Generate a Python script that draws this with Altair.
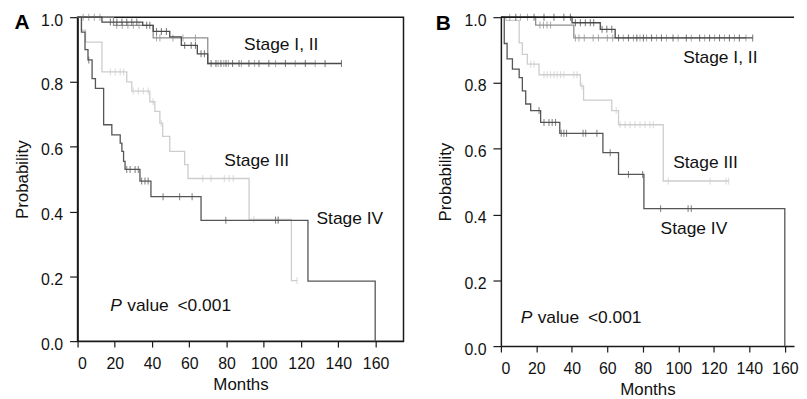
import altair as alt
import pandas as pd

FONT = "Liberation Sans"
X_TICKS = [0, 20, 40, 60, 80, 100, 120, 140, 160]
Y_TICKS = [0.0, 0.2, 0.4, 0.6, 0.8, 1.0]

# ---------------- Panel A ----------------
a1_t = [0, 13.1, 35, 40.6, 49.5, 55.7, 64.3, 69.9, 141.7]
a1_s = [1.0, 0.985, 0.975, 0.956, 0.939, 0.913, 0.887, 0.857, 0.857]
a1_c = [17.6, 21.1, 23.8, 26.4, 29.1, 31.8, 37.1, 38.8, 42.4, 45.0, 47.7, 57.5, 61.0, 63.3,
        66.3, 68.1, 71.7, 74.3, 77.0, 79.7, 83.2, 86.7, 92.0, 97.4, 102.7, 111.6, 122.3, 132.9, 141.7]

a2_t = [0, 19.3, 40.6, 69.9, 127.6]
a2_s = [1.0, 0.975, 0.936, 0.857, 0.857]
a2_c = [3.0, 6.0, 9.0, 12.0, 21.0, 24.0, 27.0, 30.0, 33.0, 42.4, 44.2, 51.2, 56.6, 63.3,
        75.5, 78.5, 81.0, 88.0, 95.0, 106.3, 116.9, 127.6]

a3_t = [0, 2.0, 4.3, 13.1, 26.4, 29.1, 38.8, 41.5, 44.2, 45.7, 49.5, 57.5, 59.3, 92.1, 114.8, 118.0]
a3_s = [1.0, 0.96, 0.923, 0.831, 0.8, 0.772, 0.739, 0.709, 0.673, 0.632, 0.586, 0.545, 0.502, 0.376, 0.187, 0.187]
a3_c = [17.6, 20.2, 22.9, 24.7, 29.9, 32.6, 35.3, 37.9, 40.5, 44.9, 67.2, 71.7, 78.8, 81.4, 83.6,
        94.7, 106.3, 107.7, 117.8]

a4_t = [0, 2.1, 4.0, 5.6, 7.8, 9.6, 14.0, 18.4, 22.9, 23.8, 24.7, 25.5, 33.5, 39.4, 66.3, 123.7, 159.8]
a4_s = [1.0, 0.954, 0.90, 0.868, 0.81, 0.78, 0.668, 0.637, 0.611, 0.586, 0.555, 0.53, 0.494, 0.446, 0.373, 0.185, 0.0]
a4_c = [6.0, 26.4, 28.2, 30.9, 32.6, 34.4, 36.2, 37.9, 45.9, 54.8, 61.5, 79.6, 106.3, 107.7]

a_labels = ["Stage I, II", "Stage III", "Stage IV"]
a_label_x = [89.4, 78.8, 128.3]
a_label_y = [0.914, 0.555, 0.376]
a_p_xy = (17.6, 0.107)

# ---------------- Panel B ----------------
b1_t = [0, 40.1, 56.0, 64.4, 141.9]
b1_s = [1.0, 0.983, 0.963, 0.937, 0.937]
b1_c = [8.4, 18.7, 24.3, 29.9, 35.5, 39.2, 42.0, 44.8, 47.6, 50.4, 52.3, 57.0, 59.7, 62.5, 66.3,
        71.9, 76.6, 80.3, 84.9, 90.5, 97.0, 104.5, 112.0, 117.6, 123.2, 128.8, 134.4, 141.9]

b2_t = [0, 19.6, 41.1, 138.1]
b2_s = [1.0, 0.976, 0.937, 0.937]
b2_c = [5.0, 11.0, 15.0, 22.0, 24.0, 26.0, 28.0, 42.0, 44.0, 47.0, 52.0, 55.0, 60.0, 63.0, 69.0,
        74.7, 78.4, 82.1, 87.7, 93.3, 99.9, 107.3, 114.8, 120.4, 126.0, 131.6, 138.1]

b3_t = [0, 2.8, 10.3, 12.1, 14.9, 21.5, 44.8, 46.6, 62.5, 66.3, 91.5, 128.4]
b3_s = [1.0, 0.99, 0.922, 0.887, 0.857, 0.825, 0.791, 0.748, 0.716, 0.673, 0.502, 0.502]
b3_c = [16.8, 18.7, 24.3, 26.1, 28.0, 29.9, 31.7, 33.6, 35.5, 41.1, 42.9, 45.7, 65.0, 67.2, 70.0,
        72.8, 75.6, 78.4, 81.2, 84.0, 85.9, 94.3, 117.9, 126.9, 128.4]

b4_t = [0, 1.9, 3.5, 6.5, 10.3, 12.1, 14.0, 16.8, 22.4, 33.2, 57.5, 66.3, 80.6, 160.0]
b4_s = [1.0, 0.92, 0.873, 0.842, 0.816, 0.776, 0.736, 0.716, 0.68, 0.647, 0.588, 0.522, 0.418, 0.0]
b4_c = [21.5, 24.3, 27.1, 28.9, 30.8, 34.0, 35.5, 37.0, 46.3, 47.8, 54.1, 61.6, 71.9, 79.9, 90.0, 105.5, 107.3]

b_labels = ["Stage I, II", "Stage III", "Stage IV"]
b_label_x = [102.7, 97.1, 90.0]
b_label_y = [0.877, 0.557, 0.356]
b_p_xy = (11.2, 0.084)

COL_I = "#4a4a4a"
COL_II = "#8f8f8f"
COL_III = "#cdcdcd"
COL_IV = "#555555"


def surv_at(times, surv, t):
    s = surv[0]
    for ti, si in zip(times, surv):
        if ti <= t:
            s = si
    return s


def panel(curves, labels, lx, ly, pxy, letter, letter_xy, width, height, xmax, boxed):
    xs = alt.Scale(domain=[0, xmax], nice=False, zero=False)
    ys = alt.Scale(domain=[0, 1], nice=False)
    xax = alt.Axis(values=X_TICKS, title="Months", tickSize=6, labelPadding=9, titlePadding=5)
    yax = alt.Axis(values=Y_TICKS, format=".1f", title="Probability", tickSize=8,
                   labelPadding=7, titlePadding=9, labelOffset=3)

    def X():
        return alt.X("month:Q", scale=xs, axis=xax)

    def Y():
        return alt.Y("surv:Q", scale=ys, axis=yax)

    layers = []
    for times, surv, ctimes, color in curves:
        ldf = pd.DataFrame({"month": times, "surv": surv})
        cdf = pd.DataFrame({"month": ctimes, "surv": [surv_at(times, surv, t) for t in ctimes]})
        line = alt.Chart(ldf).mark_line(interpolate="step-after", color=color, strokeWidth=1.3).encode(
            x=X(), y=Y())
        ticks = alt.Chart(cdf).mark_tick(orient="vertical", color=color, size=7, thickness=1.1).encode(
            x=X(), y=Y())
        layers += [line, ticks]
    tdf = pd.DataFrame({"label": labels, "month": lx, "surv": ly})
    texts = alt.Chart(tdf).mark_text(align="left", baseline="middle", font=FONT, fontSize=17.5,
                                     color="#111").encode(x=X(), y=Y(), text="label:N")
    pdf = pd.DataFrame({"month": [pxy[0]], "surv": [pxy[1]], "p": ["P"], "rest": ["value\u2002<0.001"]})
    ptxt = alt.Chart(pdf).mark_text(align="left", baseline="middle", font=FONT, fontSize=17.5,
                                    fontStyle="italic", color="#111").encode(x=X(), y=Y(), text="p:N")
    rtxt = alt.Chart(pdf).mark_text(align="left", baseline="middle", font=FONT, fontSize=17.5,
                                    dx=17, color="#111").encode(x=X(), y=Y(), text="rest:N")
    ldf2 = pd.DataFrame({"t": [letter]})
    let = alt.Chart(ldf2).mark_text(align="center", baseline="middle", font=FONT, fontSize=21,
                                    fontWeight="bold", color="#000").encode(
        text="t:N", x=alt.value(letter_xy[0]), y=alt.value(letter_xy[1]))
    layers += [texts, ptxt, rtxt, let]
    if not boxed:
        top = alt.Chart(pd.DataFrame({"surv": [1.0]})).mark_rule(color="#1a1a1a", strokeWidth=1.5).encode(
            y=Y())
        layers.append(top)
    ch = alt.layer(*layers).properties(width=width, height=height)
    if boxed:
        ch = ch.properties(view=alt.ViewBackground(stroke="#1a1a1a", strokeWidth=1.5))
    return ch


panel_a = panel(
    [(a3_t, a3_s, a3_c, COL_III), (a2_t, a2_s, a2_c, COL_II), (a1_t, a1_s, a1_c, COL_I),
     (a4_t, a4_s, a4_c, COL_IV)],
    a_labels, a_label_x, a_label_y, a_p_xy, "A", (-56, 6), 328, 326, 175, True)

panel_b = panel(
    [(b3_t, b3_s, b3_c, COL_III), (b2_t, b2_s, b2_c, COL_II), (b1_t, b1_s, b1_c, COL_I),
     (b4_t, b4_s, b4_c, COL_IV)],
    b_labels, b_label_x, b_label_y, b_p_xy, "B", (-58, 7), 295, 331, 165.2, False)

chart = alt.hconcat(panel_a, panel_b, spacing=98, bounds="flush").properties(
    padding={"left": 5, "top": 2, "right": 0, "bottom": 0}
).configure_view(stroke=None).configure_axis(
    grid=False,
    domainColor="#1a1a1a", domainWidth=1.5,
    tickColor="#1a1a1a", tickWidth=1.2,
    labelFont=FONT, labelFontSize=16, labelColor="#111",
    titleFont=FONT, titleFontSize=17, titleFontWeight="normal", titleColor="#111",
)

chart.save("out.html", embed_options={"renderer": "svg", "actions": False})
